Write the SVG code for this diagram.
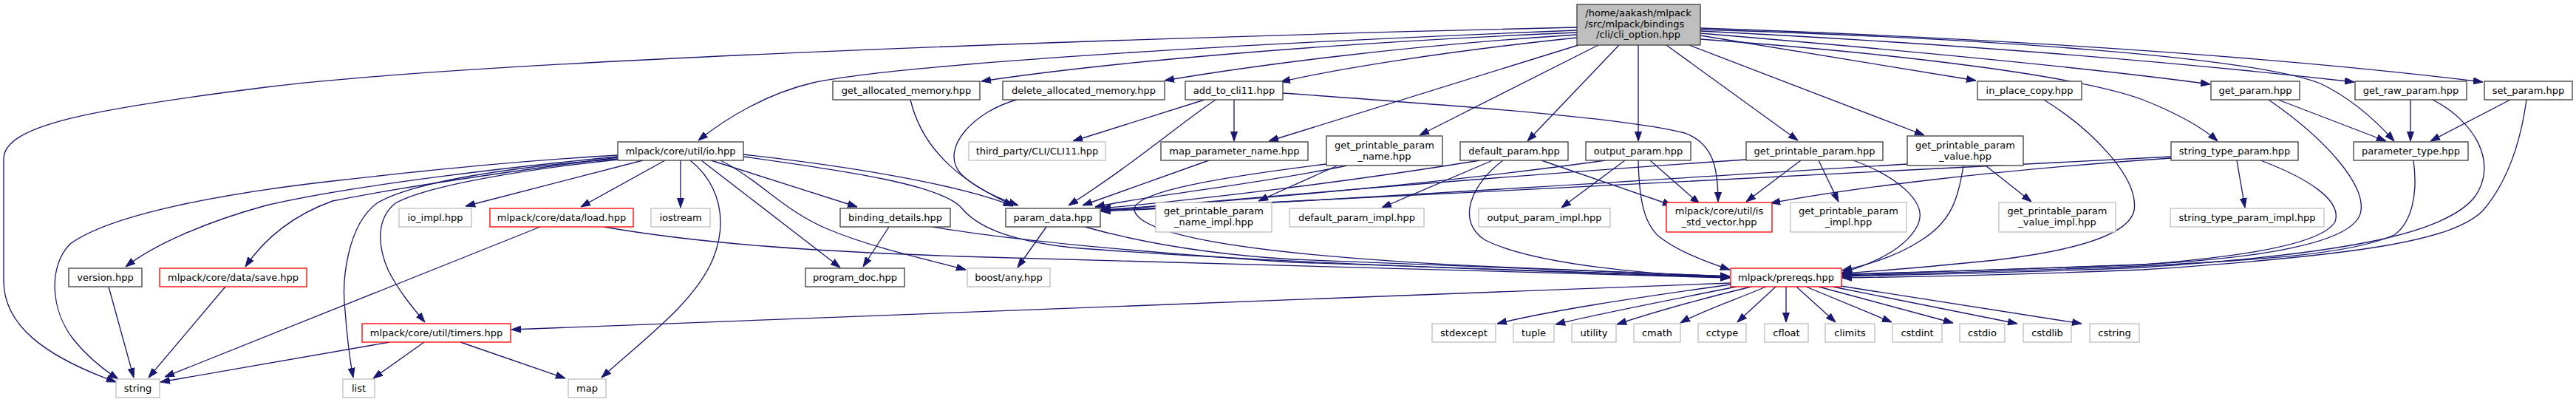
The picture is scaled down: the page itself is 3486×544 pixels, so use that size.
<svg xmlns="http://www.w3.org/2000/svg" width="3486" height="544" viewBox="0 0 3486 544">
<style>
.n rect{fill:#fff;stroke:#404040;stroke-width:1.33}
.g rect{fill:#fff;stroke:#bfbfbf;stroke-width:1.33}
.r rect{fill:#fff;stroke:#ff0000;stroke-width:1.33}
.m rect{fill:#bfbfbf;stroke:#404040;stroke-width:1.33}
text{font-family:"DejaVu Sans","Liberation Sans",sans-serif;font-size:13px;text-anchor:middle;fill:#000}
#edges path{fill:none;stroke:#191970;stroke-width:1.33;marker-end:url(#a)}
</style>
<defs>
<marker id="a" viewBox="0 0 13 10" refX="13" refY="5" markerWidth="13" markerHeight="10" markerUnits="userSpaceOnUse" orient="auto">
<path d="M0,0.5 L13,5 L0,9.5 z" fill="#191970" stroke="#191970" stroke-width="1"/>
</marker>
</defs>
<rect x="0" y="0" width="3486" height="544" fill="#fff"/>
<g id="edges">
<path d="M2134,37 C1500,52 650,82 360,118 C120,148 5,170 5,215 L5,380 C5,440 60,482 157,517"/>
<path d="M2134,41 C1600,62 1200,90 1100,112 C1040,126 985,158 945,190"/>
<path d="M2134,44 C1800,58 1500,84 1328,110"/>
<path d="M2134,47 C1900,62 1700,88 1576,109"/>
<path d="M2134,51 C1950,70 1800,95 1733,111"/>
<path d="M2136,61 L1717,191"/>
<path d="M2163,61 L1921,183"/>
<path d="M2191,61 L2067,191"/>
<path d="M2217,61 L2217,191"/>
<path d="M2255,61 L2433,190"/>
<path d="M2286,61 L2604,183"/>
<path d="M2301,48 L2674,109"/>
<path d="M2301,45 C2600,70 2850,95 2991,114"/>
<path d="M2301,42 C2700,62 3000,90 3186,111"/>
<path d="M2301,38 C2800,55 3150,85 3360,111"/>
<path d="M2301,40 C2700,52 3050,78 3140,113 C3180,132 3215,163 3240,191"/>
<path d="M2301,53 C2600,75 2820,105 2900,135 C2950,155 2980,172 3001,191"/>
<path d="M1630,135 L1452,191"/>
<path d="M1645,135 C1600,165 1530,225 1446,278"/>
<path d="M1670,135 L1670,191"/>
<path d="M1736,126 C2000,145 2200,160 2280,180 C2320,195 2325,230 2325,273"/>
<path d="M1232,135 C1250,210 1310,250 1371,278"/>
<path d="M1376,135 C1320,150 1270,200 1300,235 C1320,255 1350,268 1378,278"/>
<path d="M1636,217 L1465,278"/>
<path d="M1823,224 C1700,250 1550,265 1482,280"/>
<path d="M1810,224 L1703,272"/>
<path d="M1795,222 C1650,240 1530,260 1535,285 C1545,320 1700,345 2000,360 C2200,368 2300,372 2341,374"/>
<path d="M2003,217 C1800,250 1600,272 1490,282"/>
<path d="M2020,217 L1870,281"/>
<path d="M2086,217 L2263,278"/>
<path d="M2034,217 C1990,250 1970,300 2010,325 C2080,360 2250,372 2341,376"/>
<path d="M2173,217 C1900,255 1600,277 1490,284"/>
<path d="M2199,217 L2113,281"/>
<path d="M2233,217 L2300,276"/>
<path d="M2217,217 C2218,260 2222,300 2245,320 C2270,340 2310,355 2341,365"/>
<path d="M2363,216 C2000,240 1700,268 1490,285"/>
<path d="M2437,217 L2363,273"/>
<path d="M2461,217 L2488,273"/>
<path d="M2508,217 C2570,240 2610,275 2595,305 C2580,335 2540,355 2493,369"/>
<path d="M2581,222 C2200,245 1800,272 1490,286"/>
<path d="M2687,224 L2749,273"/>
<path d="M2657,224 C2650,270 2640,300 2600,325 C2570,345 2530,358 2493,366"/>
<path d="M2766,135 C2830,175 2895,240 2888,285 C2880,320 2800,340 2700,352 C2600,362 2540,367 2493,370"/>
<path d="M3083,135 L3229,191"/>
<path d="M3070,135 C3150,190 3200,250 3195,285 C3190,330 3050,350 2900,358 C2700,365 2560,370 2493,372"/>
<path d="M3262,135 L3262,191"/>
<path d="M3292,135 C3350,165 3380,220 3350,265 C3310,320 3150,345 2900,362 C2700,370 2560,372 2493,374"/>
<path d="M3397,135 L3289,191"/>
<path d="M3419,135 C3410,200 3390,250 3360,285 C3320,325 3200,345 2900,365 C2700,373 2560,375 2493,376"/>
<path d="M3266,217 C3272,260 3265,300 3240,318 C3180,345 3050,352 2900,360 C2700,368 2560,371 2493,373"/>
<path d="M3027,217 L3038,281"/>
<path d="M3059,217 C3120,240 3170,270 3160,300 C3140,335 3000,350 2900,358 C2700,366 2560,369 2493,371"/>
<path d="M2938,212 C2600,225 2000,262 1490,285"/>
<path d="M2938,214 C2700,230 2500,255 2396,275"/>
<path d="M870,217 L630,279"/>
<path d="M900,217 L786,280"/>
<path d="M921,217 L921,281"/>
<path d="M934,217 C975,250 985,300 965,350 C940,410 870,460 814,511"/>
<path d="M949,217 L1137,362"/>
<path d="M962,217 L1160,280"/>
<path d="M975,217 C1030,245 1060,285 1120,310 C1180,335 1250,350 1307,365"/>
<path d="M1006,209 C1150,225 1300,250 1371,279"/>
<path d="M1006,212 C1150,232 1270,250 1300,280 C1320,305 1360,325 1450,335 C1700,355 2100,368 2341,375"/>
<path d="M836,210 C700,218 600,228 450,245 C300,262 150,290 95,330 C65,360 68,420 100,460 C120,485 140,500 160,513"/>
<path d="M836,212 C700,225 480,250 360,278 C280,300 210,330 170,361"/>
<path d="M836,213 C720,228 560,250 450,272 C400,290 360,320 332,361"/>
<path d="M836,215 C700,225 560,245 510,275 C470,305 462,380 467,420 C470,460 474,490 478,511"/>
<path d="M836,216 C720,228 580,250 535,275 C510,295 510,330 525,365 C540,395 560,418 575,436"/>
<path d="M731,307 L223,510"/>
<path d="M817,307 C950,330 1100,340 1300,347 C1700,360 2100,370 2341,376"/>
<path d="M527,463 L217,517"/>
<path d="M574,463 L505,512"/>
<path d="M623,463 L765,512"/>
<path d="M2342,383 L692,446"/>
<path d="M147,388 L181,511"/>
<path d="M305,388 L201,511"/>
<path d="M1203,307 L1168,361"/>
<path d="M1262,307 C1400,330 1600,345 1750,355 C2000,365 2200,372 2341,375"/>
<path d="M1416,307 L1377,362"/>
<path d="M1468,307 C1550,330 1650,345 1750,351 C2000,362 2200,370 2341,374"/>
<path d="M2342,385 C2200,405 2100,420 2026,438"/>
<path d="M2350,388 C2250,408 2160,425 2105,439"/>
<path d="M2370,388 C2300,405 2230,425 2188,439"/>
<path d="M2390,388 C2350,405 2300,422 2274,437"/>
<path d="M2403,388 L2351,436"/>
<path d="M2417,388 L2417,436"/>
<path d="M2431,388 L2484,436"/>
<path d="M2444,388 L2560,436"/>
<path d="M2461,388 L2643,437"/>
<path d="M2480,388 L2730,438"/>
<path d="M2491,387 L2817,438"/>
</g>
<g id="n_main" class="m"><rect x="2134" y="6" width="167" height="55"/><text x="2217" y="22">/home/aakash/mlpack</text><text x="2212" y="37">/src/mlpack/bindings</text><text x="2217" y="51">/cli/cli_option.hpp</text></g>
<g id="n_io" class="n"><rect x="836" y="192" width="170" height="25"/><text x="921" y="209">mlpack/core/util/io.hpp</text></g>
<g id="n_get_allocated_memory" class="n"><rect x="1127" y="110" width="199" height="25"/><text x="1226.5" y="127">get_allocated_memory.hpp</text></g>
<g id="n_delete_allocated_memory" class="n"><rect x="1357" y="110" width="219" height="25"/><text x="1466.5" y="127">delete_allocated_memory.hpp</text></g>
<g id="n_add_to_cli11" class="n"><rect x="1604" y="110" width="132" height="25"/><text x="1670" y="127">add_to_cli11.hpp</text></g>
<g id="n_cli11" class="g"><rect x="1311" y="192" width="185" height="25"/><text x="1403.5" y="209">third_party/CLI/CLI11.hpp</text></g>
<g id="n_map_parameter_name" class="n"><rect x="1571" y="192" width="199" height="25"/><text x="1670.5" y="209">map_parameter_name.hpp</text></g>
<g id="n_gpp_name" class="n"><rect x="1795" y="184" width="157" height="40"/><text x="1873.5" y="201">get_printable_param</text><text x="1873.5" y="215.5">_name.hpp</text></g>
<g id="n_default_param" class="n"><rect x="1976" y="192" width="146" height="25"/><text x="2049" y="209">default_param.hpp</text></g>
<g id="n_output_param" class="n"><rect x="2146" y="192" width="142" height="25"/><text x="2217" y="209">output_param.hpp</text></g>
<g id="n_gpp" class="n"><rect x="2363" y="192" width="185" height="25"/><text x="2455.5" y="209">get_printable_param.hpp</text></g>
<g id="n_gpp_value" class="n"><rect x="2581" y="184" width="157" height="40"/><text x="2659.5" y="201">get_printable_param</text><text x="2659.5" y="215.5">_value.hpp</text></g>
<g id="n_in_place_copy" class="n"><rect x="2676" y="110" width="141" height="25"/><text x="2746.5" y="127">in_place_copy.hpp</text></g>
<g id="n_get_param" class="n"><rect x="2992" y="110" width="120" height="25"/><text x="3052" y="127">get_param.hpp</text></g>
<g id="n_get_raw_param" class="n"><rect x="3187" y="110" width="151" height="25"/><text x="3262.5" y="127">get_raw_param.hpp</text></g>
<g id="n_set_param" class="n"><rect x="3362" y="110" width="119" height="25"/><text x="3421.5" y="127">set_param.hpp</text></g>
<g id="n_string_type_param" class="n"><rect x="2938" y="192" width="172" height="25"/><text x="3024" y="209">string_type_param.hpp</text></g>
<g id="n_parameter_type" class="n"><rect x="3185" y="192" width="155" height="25"/><text x="3262.5" y="209">parameter_type.hpp</text></g>
<g id="n_version" class="n"><rect x="93" y="363" width="99" height="25"/><text x="142.5" y="380">version.hpp</text></g>
<g id="n_save" class="r"><rect x="216" y="363" width="199" height="25"/><text x="315.5" y="380">mlpack/core/data/save.hpp</text></g>
<g id="n_string" class="g"><rect x="157" y="513" width="59" height="25"/><text x="186.5" y="530">string</text></g>
<g id="n_list" class="g"><rect x="464" y="513" width="43" height="25"/><text x="485.5" y="530">list</text></g>
<g id="n_timers" class="r"><rect x="490" y="438" width="201" height="25"/><text x="590.5" y="455">mlpack/core/util/timers.hpp</text></g>
<g id="n_io_impl" class="g"><rect x="540" y="282" width="98" height="25"/><text x="589" y="299">io_impl.hpp</text></g>
<g id="n_load" class="r"><rect x="663" y="282" width="194" height="25"/><text x="760" y="299">mlpack/core/data/load.hpp</text></g>
<g id="n_iostream" class="g"><rect x="881" y="282" width="80" height="25"/><text x="921" y="299">iostream</text></g>
<g id="n_binding_details" class="n"><rect x="1137" y="282" width="149" height="25"/><text x="1211.5" y="299">binding_details.hpp</text></g>
<g id="n_program_doc" class="n"><rect x="1090" y="363" width="134" height="25"/><text x="1157" y="380">program_doc.hpp</text></g>
<g id="n_map" class="g"><rect x="769" y="513" width="51" height="25"/><text x="794.5" y="530">map</text></g>
<g id="n_param_data" class="n"><rect x="1361" y="282" width="128" height="25"/><text x="1425" y="299">param_data.hpp</text></g>
<g id="n_boost_any" class="g"><rect x="1309" y="363" width="112" height="25"/><text x="1365" y="380">boost/any.hpp</text></g>
<g id="n_gpp_name_impl" class="g"><rect x="1564" y="274" width="157" height="40"/><text x="1642.5" y="290">get_printable_param</text><text x="1642.5" y="305">_name_impl.hpp</text></g>
<g id="n_default_param_impl" class="g"><rect x="1745" y="282" width="182" height="25"/><text x="1836" y="299">default_param_impl.hpp</text></g>
<g id="n_output_param_impl" class="g"><rect x="2001" y="282" width="178" height="25"/><text x="2090" y="299">output_param_impl.hpp</text></g>
<g id="n_is_std_vector" class="r"><rect x="2255" y="274" width="143" height="40"/><text x="2326.5" y="290">mlpack/core/util/is</text><text x="2326.5" y="305">_std_vector.hpp</text></g>
<g id="n_gpp_impl" class="g"><rect x="2423" y="274" width="157" height="40"/><text x="2501.5" y="290">get_printable_param</text><text x="2501.5" y="305">_impl.hpp</text></g>
<g id="n_gpp_value_impl" class="g"><rect x="2705" y="274" width="158" height="40"/><text x="2784" y="290">get_printable_param</text><text x="2784" y="305">_value_impl.hpp</text></g>
<g id="n_string_type_param_impl" class="g"><rect x="2937" y="282" width="208" height="25"/><text x="3041" y="299">string_type_param_impl.hpp</text></g>
<g id="n_prereqs" class="r"><rect x="2342" y="363" width="150" height="25"/><text x="2417" y="380">mlpack/prereqs.hpp</text></g>
<g id="n_stdexcept" class="g"><rect x="1938" y="438" width="86" height="25"/><text x="1981" y="455">stdexcept</text></g>
<g id="n_tuple" class="g"><rect x="2048" y="438" width="55" height="25"/><text x="2075.5" y="455">tuple</text></g>
<g id="n_utility" class="g"><rect x="2127" y="438" width="60" height="25"/><text x="2157" y="455">utility</text></g>
<g id="n_cmath" class="g"><rect x="2211" y="438" width="63" height="25"/><text x="2242.5" y="455">cmath</text></g>
<g id="n_cctype" class="g"><rect x="2298" y="438" width="65" height="25"/><text x="2330.5" y="455">cctype</text></g>
<g id="n_cfloat" class="g"><rect x="2388" y="438" width="59" height="25"/><text x="2417.5" y="455">cfloat</text></g>
<g id="n_climits" class="g"><rect x="2470" y="438" width="67" height="25"/><text x="2503.5" y="455">climits</text></g>
<g id="n_cstdint" class="g"><rect x="2561" y="438" width="67" height="25"/><text x="2594.5" y="455">cstdint</text></g>
<g id="n_cstdio" class="g"><rect x="2652" y="438" width="61" height="25"/><text x="2682.5" y="455">cstdio</text></g>
<g id="n_cstdlib" class="g"><rect x="2738" y="438" width="65" height="25"/><text x="2770.5" y="455">cstdlib</text></g>
<g id="n_cstring" class="g"><rect x="2828" y="438" width="67" height="25"/><text x="2861.5" y="455">cstring</text></g>
</svg>
